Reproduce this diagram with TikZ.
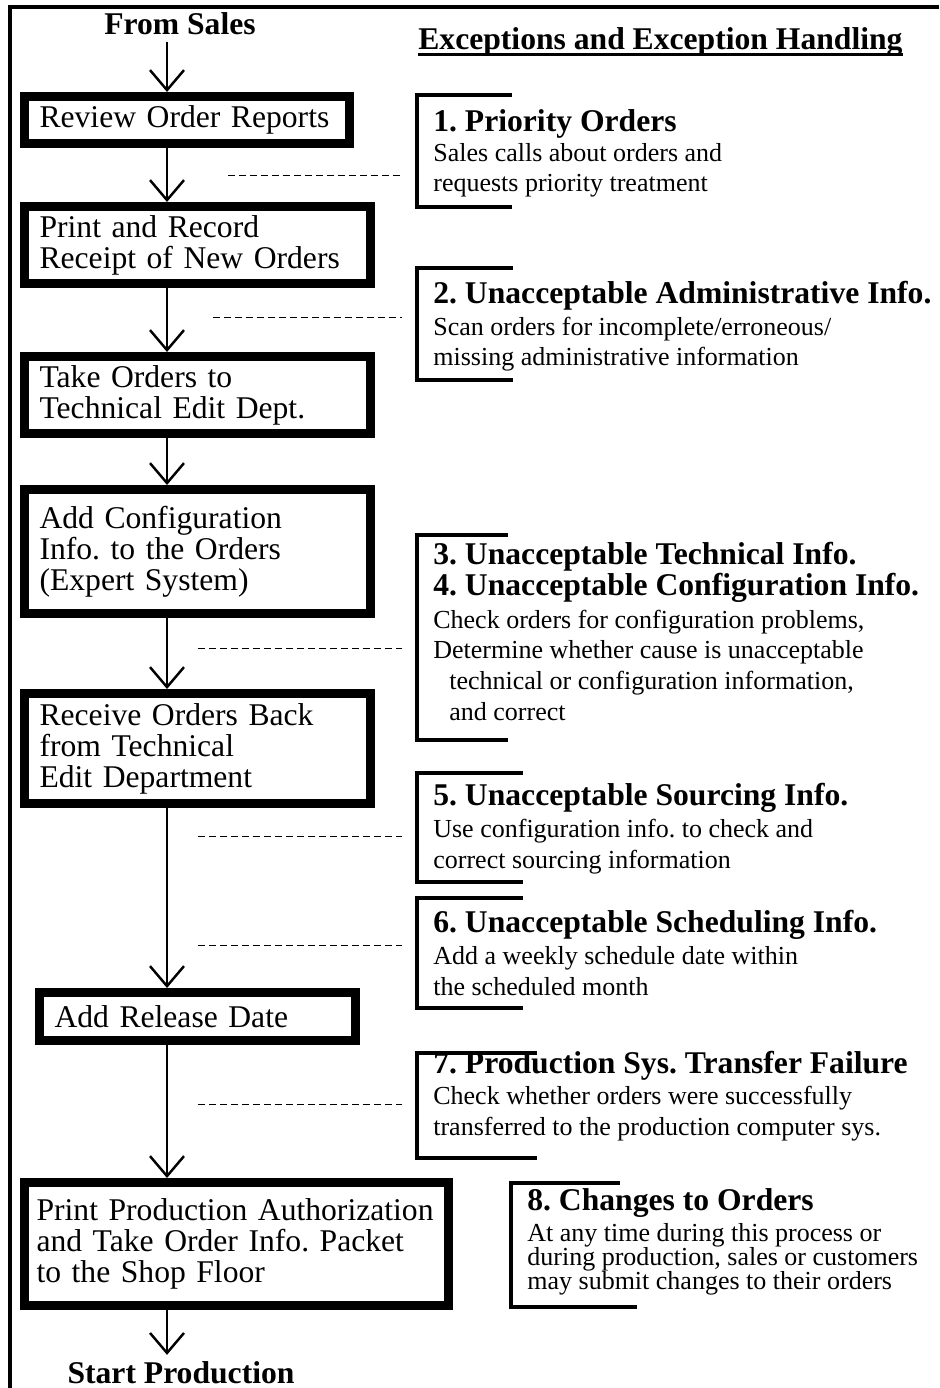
\documentclass[tikz,border=0pt]{standalone}
\usepackage{fontspec}
\setmainfont{Liberation Serif}
\usetikzlibrary{arrows.meta,positioning}
\newcommand\boxfont{\fontsize{18}{17.6}\selectfont\frenchspacing}
\newcommand\headfont{\fontsize{18}{17.6}\selectfont\bfseries\frenchspacing}
\newcommand\notefont{\fontsize{14.8}{17.4}\selectfont\frenchspacing}
\newcommand\tightnotefont{\fontsize{14.8}{13.6}\selectfont\frenchspacing}

\begin{document}
\begin{tikzpicture}[x=0.02cm, y=-0.02cm,
  procbox/.style={rectangle, draw, line width=0.18cm, inner xsep=0.3cm, inner ysep=0pt, align=left, font=\boxfont},
  flow/.style={-{Straight Barb[length=0.4cm,width=0.68cm]}, line width=1.4pt},
  tie/.style={dash pattern=on 0.14cm off 0.08cm, line width=0.5pt},
  bracket/.style={line width=2.2pt},
  endpoint/.style={anchor=base, font=\headfont},
  exctitle/.style={anchor=base west, inner sep=0pt, align=left, font=\headfont},
  excnote/.style={anchor=base west, inner sep=0pt, align=left, font=\notefont}]
\useasboundingbox (0,0) rectangle (939,1388);
\draw[line width=2.6pt] (10,1388) -- (10,7) -- (939,7);
\coordinate (spine) at (167,0);

\node (fromsales) [endpoint] at (180,35) {From Sales};
\node (review) [procbox, text width=5.9cm, minimum height=0.94cm] at (187,120) {Review Order Reports};
\node (record) [procbox, text width=6.32cm, minimum height=1.54cm] at (197.5,245) {Print and Record\\Receipt of New Orders};
\node (carry) [procbox, text width=6.32cm, minimum height=1.54cm] at (197.5,395) {Take Orders to\\Technical Edit Dept.};
\node (config) [procbox, text width=6.32cm, minimum height=2.48cm] at (197.5,551.5) {Add Configuration\\Info. to the Orders\\(Expert System)};
\node (receive) [procbox, text width=6.32cm, minimum height=2.2cm] at (197.5,748.5) {Receive Orders Back\\from Technical\\Edit Department};
\node (release) [procbox, text width=5.72cm, minimum height=0.96cm] at (197.5,1016.5) {Add Release Date};
\node (authorize) [procbox, inner xsep=0.24cm, text width=8.0cm, minimum height=2.46cm] at (236.5,1244) {Print Production Authorization\\and Take Order Info. Packet\\to the Shop Floor};
\node (start) [endpoint] at (181,1383) {Start Production};

\foreach \a/\b in {fromsales/review, review/record, record/carry, carry/config,
                   config/receive, receive/release, release/authorize, authorize/start}
  \draw[flow] (\a.south -| spine) -- (\b.north -| spine);

\node (header) [anchor=base west, inner sep=0pt, font=\headfont] at (418,50) {Exceptions and Exception Handling};
\draw[line width=1.3pt] ([yshift=-2.5pt]header.base west) -- ([yshift=-2.5pt]header.base east);

\node (prio) [exctitle] at (433,132) {1. Priority Orders};
\node (prionote) [excnote] at (433,192) {Sales calls about orders and\\requests priority treatment};
\node (admin) [exctitle] at (433,304) {2. Unacceptable Administrative Info.};
\node (adminnote) [excnote] at (433,366) {Scan orders for incomplete/erroneous/\\missing administrative information};
\node (tech) [exctitle] at (433,595) {3. Unacceptable Technical Info.\\4. Unacceptable Configuration Info.};
\node (technote) [excnote] at (433,720) {Check orders for configuration problems,\\Determine whether cause is unacceptable\\
  \hspace{0.32cm}technical or configuration information,\\\hspace{0.32cm}and correct};
\node (source) [exctitle] at (433,805) {5. Unacceptable Sourcing Info.};
\node (sourcenote) [excnote] at (433,868) {Use configuration info. to check and\\correct sourcing information};
\node (sched) [exctitle] at (433,932) {6. Unacceptable Scheduling Info.};
\node (schednote) [excnote] at (433,995) {Add a weekly schedule date within\\the scheduled month};
\node (transfer) [exctitle] at (433,1073) {7. Production Sys. Transfer Failure};
\node (transfernote) [excnote] at (433,1135) {Check whether orders were successfully\\transferred to the production computer sys.};
\node (change) [exctitle] at (527,1210) {8. Changes to Orders};
\node (changenote) [excnote, font=\tightnotefont] at (527,1289) {At any time during this process or\\during production, sales or customers\\may submit changes to their orders};

\foreach \ya/\yb/\xr in {95/207/512, 268/380/513, 535/740/508, 773/882/523, 898/1008/523, 1053/1158/537}
  \draw[bracket] (\xr,\ya) -| (417,\yb) -- (\xr,\yb);
\draw[bracket] (620,1183) -| (511,1307) -- (637,1307);

\foreach \xa/\yy in {228/175, 213/317, 198/648, 198/836, 198/945, 198/1104}
  \draw[tie] (\xa,\yy) -- (402,\yy);
\end{tikzpicture}
\end{document}
